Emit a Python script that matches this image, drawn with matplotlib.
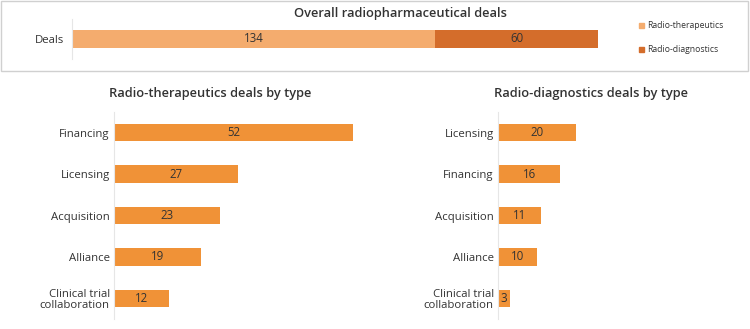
import matplotlib.pyplot as plt
import matplotlib.patches as patches

# ---- data ----
overall_labels = ["Radio-therapeutics", "Radio-diagnostics"]
overall_values = [134, 60]

thera_types = ["Financing", "Licensing", "Acquisition", "Alliance", "Clinical trial\ncollaboration"]
thera_values = [52, 27, 23, 19, 12]

diag_types = ["Licensing", "Financing", "Acquisition", "Alliance", "Clinical trial\ncollaboration"]
diag_values = [20, 16, 11, 10, 3]

LIGHT = "#F4AC6E"
DARK = "#D46D2B"
BAR = "#F09237"
TXT = "#333333"
GRID = "#e6e6e6"

plt.rcParams['font.family'] = ['Open Sans', 'DejaVu Sans']

W, H = 750, 329
fig = plt.figure(figsize=(W / 100, H / 100), dpi=100)


def px_axes(x0, y0, x1, y1):
    # pixel box (top-left origin) -> figure axes
    return fig.add_axes([x0 / W, 1 - y1 / H, (x1 - x0) / W, (y1 - y0) / H])


def clean(ax):
    for s in ["top", "right", "bottom"]:
        ax.spines[s].set_visible(False)
    ax.spines["left"].set_color(GRID)
    ax.tick_params(axis="both", length=0, labelsize=8.2, colors=TXT)
    ax.set_xticks([])


# ---- top panel: border ----
fig.patches.append(patches.Rectangle((1 / W, 1 - 71 / H), 747 / W, 70 / H,
                                     transform=fig.transFigure, fill=False,
                                     edgecolor="#d0d0d0", linewidth=1))
fig.text(400 / W, 1 - 13 / H, "Overall radiopharmaceutical deals", ha="center", va="center",
         fontsize=9.3, fontweight="semibold", color=TXT)

ax0 = px_axes(72, 19, 598, 59)
clean(ax0)
left = 0
for lab, v, c in zip(overall_labels, overall_values, [LIGHT, DARK]):
    ax0.barh(0, v, left=left, height=0.47, color=c, label=lab)
    ax0.text(left + v / 2, 0, str(v), ha="center", va="center", fontsize=8.3, color=TXT)
    left += v
ax0.set_xlim(0, sum(overall_values))
ax0.set_ylim(-0.5, 0.5)
ax0.set_yticks([0])
ax0.set_yticklabels(["Deals"])
ax0.tick_params(axis="y", pad=6)

# legend
for i, (lab, c) in enumerate(zip(overall_labels, [LIGHT, DARK])):
    yy = [25, 49][i]
    fig.patches.append(patches.Rectangle((639 / W, 1 - (yy + 2.5) / H), 5 / W, 5 / H,
                                         transform=fig.transFigure, color=c))
    fig.text(647 / W, 1 - yy / H, lab, ha="left", va="center", fontsize=6.2, color=TXT)


def type_panel(ax, cats, vals, xmax, title, title_x):
    clean(ax)
    y = list(range(len(cats)))
    ax.barh(y, vals, height=0.42, color=BAR)
    for yi, v in zip(y, vals):
        ax.text(v / 2, yi, str(v), ha="center", va="center", fontsize=8.3, color=TXT)
    ax.set_yticks(y)
    ax.set_yticklabels(cats, linespacing=1.05)
    ax.set_ylim(len(cats) - 0.5, -0.5)
    ax.set_xlim(0, xmax)
    ax.tick_params(axis="y", pad=3)
    fig.text(title_x / W, 1 - 93 / H, title, ha="center", va="center",
             fontsize=9.3, fontweight="semibold", color=TXT)


ax1 = px_axes(114, 112, 370, 319)
type_panel(ax1, thera_types, thera_values, 55.7, "Radio-therapeutics deals by type", 210)

ax2 = px_axes(498, 112, 712, 319)
type_panel(ax2, diag_types, diag_values, 54.9, "Radio-diagnostics deals by type", 591)

fig.savefig("out.png", dpi=100)
